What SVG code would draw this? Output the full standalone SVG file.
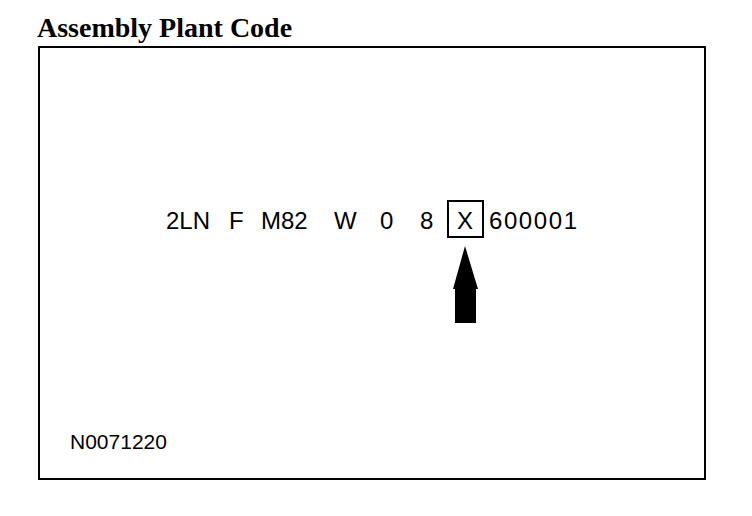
<svg xmlns="http://www.w3.org/2000/svg" width="752" height="516" viewBox="0 0 752 516">
<style>
.t{font-family:"Liberation Sans",Arial,sans-serif;font-size:24px;fill:#000}
.title{font-family:"Liberation Serif","Times New Roman",serif;font-size:28px;font-weight:bold;fill:#000}
.frame{fill:none;stroke:#000;stroke-width:2}
</style>
<rect width="752" height="516" fill="#fff"/>
<text class="title" x="37" y="37">Assembly Plant Code</text>
<rect id="frame" class="frame" x="39" y="47" width="666" height="432"/>
<g id="code">
<text class="t" x="166" y="229">2LN</text>
<text class="t" x="229" y="229">F</text>
<text class="t" x="261" y="229">M82</text>
<text class="t" x="334" y="229">W</text>
<text class="t" x="380" y="229">0</text>
<text class="t" x="420" y="229">8</text>
<text class="t" x="457" y="229">X</text>
<text class="t" x="489" y="229" textLength="88" lengthAdjust="spacing">600001</text>
</g>
<g id="xbox"><rect class="frame" x="448" y="201" width="35" height="36"/></g>
<g id="connectors">
<path d="M465,246 L478,289 L476,289 L476,323 L455,323 L455,289 L453,289 Z" fill="#000"/>
</g>
<text class="t" x="70" y="449" style="font-size:21px">N0071220</text>
</svg>
